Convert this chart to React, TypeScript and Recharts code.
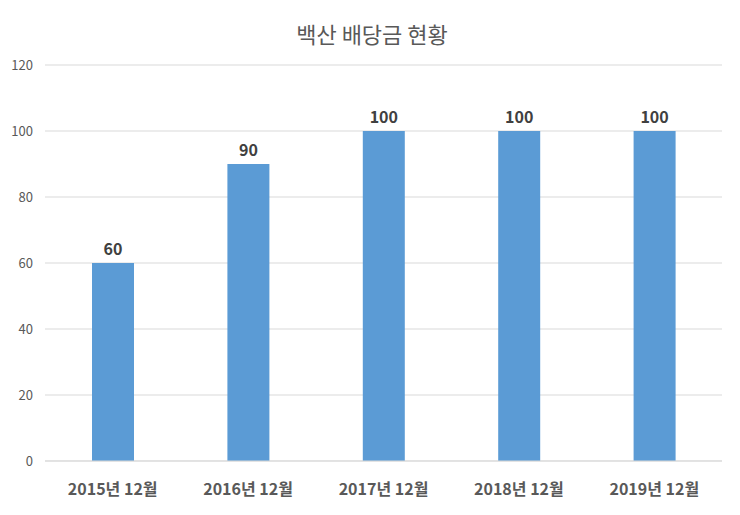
import { BarChart, Bar, XAxis, YAxis, CartesianGrid, LabelList } from "recharts";

const categories = ["2015년 12월", "2016년 12월", "2017년 12월", "2018년 12월", "2019년 12월"];
const dividends = [60, 90, 100, 100, 100];
const yTicks = [0, 20, 40, 60, 80, 100, 120];

const data = categories.map((name, i) => ({ name, value: dividends[i] }));

const font = '"Noto Sans CJK KR", "Open Sans", sans-serif';

function App() {
  return (
    <div
      style={{
        position: "absolute",
        left: 0,
        top: 0,
        width: 740,
        height: 515,
        background: "#ffffff",
        fontFamily: font,
      }}
    >
      <div
        style={{
          position: "absolute",
          top: 17,
          left: 2,
          width: 740,
          textAlign: "center",
          fontSize: 22,
          color: "#595959",
        }}
      >
        백산 배당금 현황
      </div>
      <BarChart
        width={740}
        height={515}
        data={data}
        margin={{ top: 65, right: 18, left: 0, bottom: 0 }}
      >
        <CartesianGrid vertical={false} stroke="#d9d9d9" />
        <XAxis
          dataKey="name"
          axisLine={{ stroke: "#d9d9d9" }}
          tickLine={false}
          height={54}
          tickMargin={17}
          tick={{ fill: "#595959", fontSize: 16, fontWeight: "bold", fontFamily: font }}
        />
        <YAxis
          width={45}
          domain={[0, 120]}
          ticks={yTicks}
          axisLine={false}
          tickLine={false}
          tickMargin={6}
          tick={{ fill: "#595959", fontSize: 13, fontFamily: font }}
        />
        <Bar dataKey="value" fill="#5b9bd5" barSize={42} isAnimationActive={false}>
          <LabelList
            dataKey="value"
            position="top"
            offset={8}
            style={{ fill: "#404040", fontSize: 16, fontWeight: "bold", fontFamily: font }}
          />
        </Bar>
      </BarChart>
    </div>
  );
}

export default App;
